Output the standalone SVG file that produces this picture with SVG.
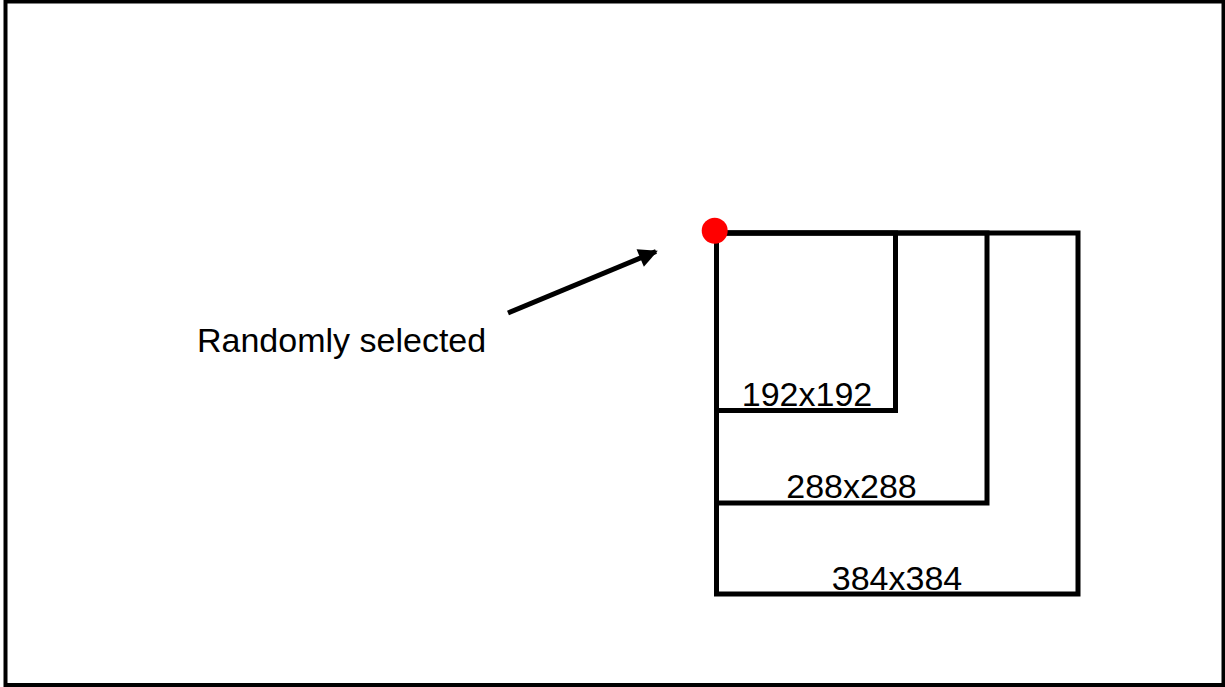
<svg xmlns="http://www.w3.org/2000/svg" width="1225" height="687" viewBox="0 0 1225 687">
<style>
.box{fill:none;stroke:#000;stroke-width:5;stroke-linecap:square}
.lbl{font-family:"Liberation Sans",Arial,sans-serif;font-size:34px;fill:#000}
</style>
<defs>
<marker id="ah" viewBox="0 0 10 10" refX="9" refY="5" markerWidth="4.6" markerHeight="3.8" orient="auto" markerUnits="strokeWidth">
<path d="M0,0 L10,5 L0,10 z" fill="#000"/>
</marker>
</defs>
<rect x="5.5" y="1.5" width="1218" height="683.5" fill="#fff" stroke="#000" stroke-width="4"/>
<g id="sq384"><path class="box" d="M716.5,233 H1078 V594 H716.5 Z"/><text class="lbl" x="897" y="590" text-anchor="middle">384x384</text></g>
<g id="sq288"><path class="box" d="M716.5,233 H987 V503 H716.5"/><text class="lbl" x="851.5" y="498" text-anchor="middle">288x288</text></g>
<g id="sq192"><path class="box" d="M716.5,233 H895.5 V410.5 H716.5"/><text class="lbl" x="807" y="406" text-anchor="middle">192x192</text></g>
<g id="point"><circle cx="714.7" cy="230.7" r="13" fill="#ff0000"/></g>
<g id="label"><text class="lbl" x="197" y="352">Randomly selected</text></g>
<g id="connectors"><line x1="508" y1="313" x2="656" y2="251.5" stroke="#000" stroke-width="5" marker-end="url(#ah)"/></g>
</svg>
